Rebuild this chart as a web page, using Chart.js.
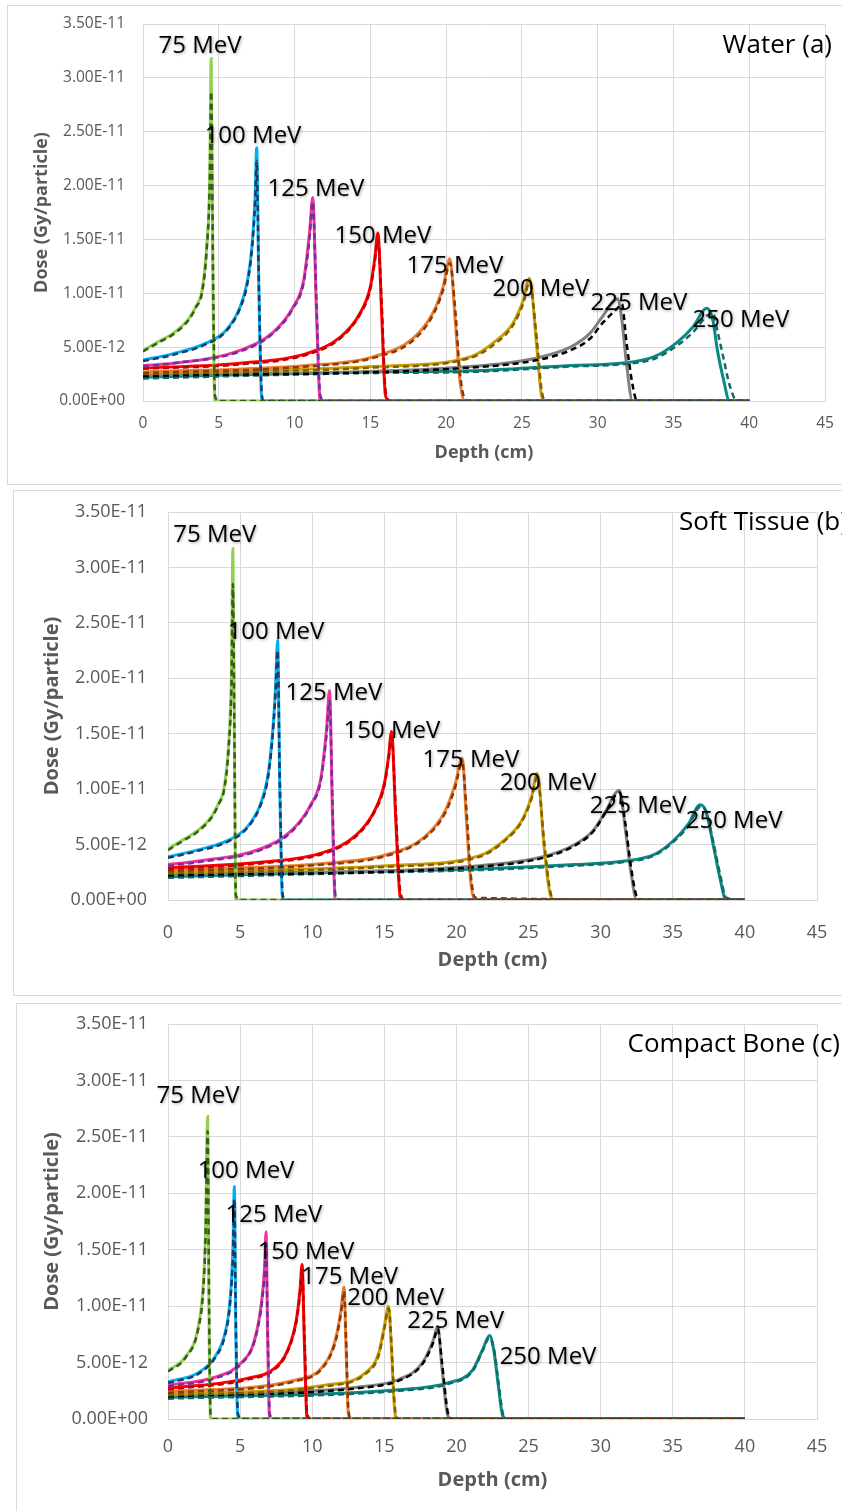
<!DOCTYPE html>
<html>
<head>
<meta charset="utf-8">
<script src="https://cdn.jsdelivr.net/npm/chart.js@4.4.0/dist/chart.umd.min.js"></script>
<style>
  body { margin: 0; width: 842px; height: 1511px; background: #fff; overflow: hidden; position: relative; }
  .frame { position: absolute; border: 1px solid #d9d9d9; }
  canvas { position: absolute; }
</style>
</head>
<body>
<div class="frame" style="left:7px;top:5px;width:900px;height:478px;"></div>
<div class="frame" style="left:13px;top:490px;width:900px;height:504px;"></div>
<div class="frame" style="left:16px;top:1003px;width:900px;height:560px;"></div>
<canvas id="water" width="834" height="478" style="left:8px;top:6px;"></canvas>
<canvas id="tissue" width="828" height="504" style="left:14px;top:491px;"></canvas>
<canvas id="bone" width="825" height="507" style="left:17px;top:1004px;"></canvas>
<script>
"use strict";

// dose values are in units of 1e-12 Gy/particle
const energies = ['75 MeV', '100 MeV', '125 MeV', '150 MeV', '175 MeV', '200 MeV', '225 MeV', '250 MeV'];
const depthTicks = [0, 5, 10, 15, 20, 25, 30, 35, 40, 45];

// Water (a)
const waterDepth = [
  [0, 1, 2, 3, 3.5, 3.9, 4.2, 4.4, 4.5, 4.62, 4.75, 5, 40],
  [0, 2, 4.2, 5.5, 6.4, 6.9, 7.2, 7.4, 7.5, 7.65, 7.85, 8, 40],
  [0, 2, 6.4, 8.6, 9.9, 10.6, 11.0, 11.2, 11.45, 11.7, 12, 40],
  [0, 6.4, 10.8, 13.0, 14.3, 15.0, 15.3, 15.5, 15.75, 16.0, 16.3, 40],
  [0, 10.8, 15.2, 17.8, 19.1, 19.8, 20.25, 20.6, 20.9, 21.2, 21.5, 40],
  [0, 15.2, 21.6, 23.3, 24.4, 25.1, 25.5, 26.0, 26.3, 26.6, 40],
  [0, 21.6, 26.0, 28.2, 29.5, 30.3, 31.3, 31.6, 31.9, 32.3, 32.6, 40],
  [0, 15.2, 21.6, 28.2, 31.5, 33.7, 35.2, 36.3, 37.2, 37.6, 37.9, 38.3, 38.7, 39.2, 40]
];
const waterSolid = [
  [4.7, 5.5, 6.3, 7.6, 8.8, 10.3, 14.3, 20.5, 31.8, 10, 0, 0, 0],
  [3.8, 4.4, 5.4, 6.6, 8.7, 11.2, 14.5, 19, 23.5, 10, 0, 0, 0],
  [3.3, 3.5, 4.7, 6.4, 8.7, 11.2, 15.8, 18.9, 8, 0, 0, 0],
  [3.05, 3.5, 4.4, 5.9, 8.1, 10.6, 13.3, 15.6, 8, 0.5, 0, 0],
  [2.7, 3.3, 4.1, 5.8, 8.1, 10.6, 13.2, 7.5, 2, 0, 0, 0],
  [2.6, 3.2, 4.1, 5.6, 7.2, 9.4, 11.4, 4.7, 0.5, 0, 0],
  [2.4, 3.2, 4.0, 5.0, 6.3, 7.8, 9.5, 7.5, 3.5, 0, 0, 0],
  [2.2, 2.7, 2.8, 3.3, 3.5, 4.1, 5.4, 6.9, 8.6, 7.5, 4.7, 2, 0, 0, 0]
];
const waterDashed = [
  [4.6, 5.4, 6.2, 7.5, 8.7, 10.1, 14.0, 20.0, 28.7, 12, 0.5, 0, 0],
  [3.7, 4.3, 5.3, 6.5, 8.6, 11.0, 14.3, 18.5, 22.3, 10.5, 0.5, 0, 0],
  [3.2, 3.5, 4.6, 6.3, 8.6, 11.0, 15.3, 18.5, 9, 0.5, 0, 0],
  [3.0, 3.4, 4.3, 5.8, 8.0, 10.4, 13.0, 15.0, 9, 1, 0, 0],
  [2.6, 3.2, 4.0, 5.6, 7.9, 10.3, 12.8, 8.5, 2.8, 0.3, 0, 0],
  [2.5, 3.1, 4.0, 5.4, 7.0, 9.1, 11.0, 5.5, 1.0, 0, 0],
  [2.3, 3.1, 3.8, 4.7, 5.8, 7.2, 8.6, 9.0, 5.5, 1.5, 0, 0],
  [2.1, 2.6, 2.7, 3.2, 3.4, 3.9, 5.1, 6.4, 7.9, 8.2, 6.5, 4, 1.5, 0, 0]
];
const waterLabelX = [3.76, 7.26, 11.41, 15.83, 20.58, 26.25, 32.72, 39.45];
const waterLabelY = [32.9, 24.6, 19.7, 15.3, 12.5, 10.4, 9.07, 7.5];

// Soft Tissue (b)
const tissueDepth = [
  [0, 1, 2, 3, 3.5, 3.9, 4.2, 4.4, 4.5, 4.6, 4.7, 5, 40],
  [0, 2, 4.2, 5.5, 6.4, 6.9, 7.2, 7.45, 7.6, 7.75, 7.95, 8.2, 40],
  [0, 2, 6.4, 8.6, 9.9, 10.6, 11.0, 11.2, 11.4, 11.6, 12, 40],
  [0, 6.4, 10.8, 13.0, 14.3, 15.0, 15.3, 15.5, 15.8, 16.1, 16.4, 40],
  [0, 10.8, 15.2, 17.8, 19.2, 19.9, 20.4, 20.7, 21.0, 21.3, 40],
  [0, 15.2, 21.6, 23.4, 24.5, 25.2, 25.6, 26.1, 26.5, 26.8, 40],
  [0, 21.6, 26.0, 28.2, 29.5, 30.3, 31.3, 31.7, 32.1, 32.5, 32.8, 40],
  [0, 15.2, 21.6, 28.2, 31.5, 33.7, 35.0, 36.1, 36.9, 37.3, 37.8, 38.3, 38.7, 40]
];
const tissueSolid = [
  [4.6, 5.4, 6.2, 7.5, 8.7, 10.2, 14.0, 20.5, 31.7, 15, 0, 0, 0],
  [3.9, 4.5, 5.4, 6.6, 8.6, 11.0, 14.3, 19.0, 23.4, 10, 0, 0, 0],
  [3.2, 3.5, 4.6, 6.3, 8.6, 11.0, 15.5, 18.9, 8, 0, 0, 0],
  [2.9, 3.4, 4.3, 5.8, 8.0, 10.5, 13.0, 15.2, 7, 0.3, 0, 0],
  [2.7, 3.3, 4.1, 5.7, 8.0, 10.4, 12.8, 7, 1.5, 0, 0],
  [2.5, 3.1, 4.0, 5.5, 7.1, 9.3, 11.4, 4.5, 0.5, 0, 0],
  [2.3, 3.1, 3.9, 5.0, 6.3, 7.9, 9.9, 6.5, 2.5, 0, 0, 0],
  [2.1, 2.6, 2.8, 3.2, 3.5, 4.1, 5.3, 6.9, 8.6, 8.0, 5.0, 1.8, 0, 0]
];
const tissueDashed = [
  [4.5, 5.3, 6.1, 7.4, 8.6, 10.0, 13.6, 19.5, 28.5, 16, 0.5, 0, 0],
  [3.8, 4.4, 5.3, 6.5, 8.5, 10.8, 14.0, 18.5, 22.5, 11, 0.5, 0, 0],
  [3.1, 3.4, 4.5, 6.2, 8.5, 10.8, 15.0, 18.0, 9, 0.5, 0, 0],
  [2.8, 3.3, 4.2, 5.7, 7.9, 10.3, 12.8, 14.7, 8, 0.8, 0, 0],
  [2.6, 3.2, 4.0, 5.6, 7.8, 10.1, 12.4, 8, 2.2, 0.2, 0],
  [2.4, 3.0, 3.9, 5.4, 7.0, 9.1, 11.1, 5.0, 0.8, 0, 0],
  [2.2, 3.0, 3.8, 4.9, 6.2, 7.8, 9.7, 7.0, 3.0, 0.3, 0, 0],
  [2.0, 2.5, 2.7, 3.1, 3.4, 4.0, 5.2, 6.7, 8.4, 8.0, 5.3, 2.2, 0.2, 0]
];
const tissueLabelX = [3.25, 7.49, 11.51, 15.53, 21.0, 26.35, 32.6, 39.25];
const tissueLabelY = [32.9, 24.2, 18.7, 15.2, 12.6, 10.5, 8.5, 7.1];

// Compact Bone (c)
const boneDepth = [
  [0, 1.2, 2.1, 2.45, 2.6, 2.75, 2.85, 2.95, 3.2, 40],
  [0, 2.1, 3.25, 3.95, 4.3, 4.5, 4.6, 4.7, 4.85, 5.1, 40],
  [0, 3.25, 5.1, 6.0, 6.5, 6.7, 6.8, 6.9, 7.05, 7.3, 40],
  [0, 5.5, 7.4, 8.3, 8.9, 9.15, 9.3, 9.45, 9.65, 9.9, 40],
  [0, 9.0, 10.7, 11.6, 12.0, 12.2, 12.35, 12.5, 12.7, 40],
  [0, 10.9, 13.7, 14.6, 15.0, 15.3, 15.5, 15.7, 15.9, 40],
  [0, 13.7, 16.0, 17.6, 18.4, 18.7, 19.0, 19.4, 19.7, 40],
  [0, 16.0, 19.4, 21.1, 21.8, 22.3, 22.6, 22.9, 23.2, 23.5, 40]
];
const boneSolid = [
  [4.3, 5.5, 8.2, 12, 16.5, 26.8, 8, 0, 0, 0],
  [3.3, 4.1, 5.5, 7.6, 10.5, 15, 20.6, 8, 0, 0, 0],
  [3.0, 3.7, 5.0, 7.0, 10.5, 13.5, 16.6, 8, 0, 0, 0],
  [2.7, 3.6, 4.5, 6.1, 8.8, 11.4, 13.7, 7, 0, 0, 0],
  [2.4, 3.5, 4.6, 7.0, 9.7, 11.7, 6, 0.5, 0, 0],
  [2.2, 3.0, 4.1, 5.8, 8.2, 10.0, 6, 1, 0, 0],
  [2.1, 2.9, 3.5, 4.9, 7.0, 8.2, 4.5, 0.3, 0, 0],
  [1.9, 2.6, 3.2, 4.3, 6.1, 7.4, 6.0, 3.0, 0.3, 0, 0]
];
const boneDashed = [
  [4.2, 5.4, 8.0, 11.5, 16, 25.5, 10, 0.5, 0, 0],
  [3.2, 4.0, 5.4, 7.4, 10.2, 14.5, 19.5, 9, 0.5, 0, 0],
  [2.9, 3.6, 4.9, 6.9, 10.2, 13.0, 15.5, 9, 0.5, 0, 0],
  [2.6, 3.5, 4.4, 6.0, 8.6, 11.0, 13.2, 8, 0.5, 0, 0],
  [2.3, 3.4, 4.5, 6.8, 9.4, 11.3, 7, 1, 0, 0],
  [2.1, 2.9, 4.0, 5.6, 8.0, 9.8, 6.5, 1.5, 0, 0],
  [2.0, 2.8, 3.4, 4.8, 6.8, 8.0, 5.0, 0.6, 0, 0],
  [1.8, 2.5, 3.1, 4.2, 6.0, 7.2, 6.2, 3.4, 0.6, 0, 0]
];
const boneLabelX = [2.08, 5.41, 7.35, 9.57, 12.59, 15.78, 19.94, 26.35];
const boneLabelY = [28.6, 22.0, 18.1, 14.8, 12.6, 10.7, 8.7, 5.5];

const solidColors = ['#92d050', '#00b0f0', '#f0349a', '#ff0000', '#ed7d31', '#c9a000', '#808080', '#0a8a86'];
const dashedColors = ['#3a5a1e', '#1f3864', '#7030a0', '#c00000', '#843c0c', '#7f6000', '#000000', '#136a66'];

const FONT = '"Open Sans", "DejaVu Sans", sans-serif';
const GRID = '#d9d9d9';
const TEXT_GRAY = '#595959';

function sciLabel(v) {
  // v is in units of 1e-12
  if (v === 0) return '0.00E+00';
  let m = v, e = -12;
  while (m >= 10 - 1e-9) { m /= 10; e += 1; }
  return m.toFixed(2) + 'E' + (e < 0 ? '-' : '+') + String(Math.abs(e)).padStart(2, '0');
}

function buildDatasets(depth, solid, dashed) {
  const sets = [];
  energies.forEach((name, i) => {
    sets.push({
      label: name + ' solid',
      data: depth[i].map((x, j) => ({x: x, y: solid[i][j]})),
      borderColor: solidColors[i],
      borderWidth: 3,
      order: 1
    });
    sets.push({
      label: name + ' dashed',
      data: depth[i].map((x, j) => ({x: x, y: dashed[i][j]})),
      borderColor: dashedColors[i],
      borderWidth: 2.5,
      borderDash: [6, 4],
      order: 0
    });
  });
  return sets;
}

const annotations = {
  id: 'annotations',
  afterDatasetsDraw(chart, args, opts) {
    const ctx = chart.ctx;
    const xs = chart.scales.x, ys = chart.scales.y;
    ctx.save();
    ctx.fillStyle = '#000';
    ctx.shadowColor = 'rgba(0,0,0,0.35)';
    ctx.shadowBlur = 3;
    ctx.shadowOffsetX = 1;
    ctx.shadowOffsetY = 1;
    ctx.textBaseline = 'middle';
    ctx.textAlign = 'center';
    ctx.font = opts.labelSize + 'px ' + FONT;
    energies.forEach((name, i) => {
      ctx.fillText(name, xs.getPixelForValue(opts.labelX[i]), ys.getPixelForValue(opts.labelY[i]));
    });
    ctx.shadowColor = 'rgba(0,0,0,0)';
    ctx.font = opts.titleSize + 'px ' + FONT;
    ctx.textAlign = opts.titleAlign;
    ctx.fillText(opts.title, chart.chartArea.right + opts.titleDx, chart.chartArea.top + opts.titleDy);
    ctx.restore();
  }
};

function makeChart(id, p) {
  new Chart(document.getElementById(id), {
    type: 'line',
    data: {datasets: buildDatasets(p.depth, p.solid, p.dashed)},
    plugins: [annotations],
    options: {
      responsive: false,
      animation: false,
      events: [],
      layout: {padding: {top: p.padTop, right: p.padRight, left: 0, bottom: 0}},
      elements: {
        point: {radius: 0},
        line: {cubicInterpolationMode: 'monotone', fill: false}
      },
      plugins: {
        legend: {display: false},
        tooltip: {enabled: false},
        annotations: {
          labelX: p.labelX, labelY: p.labelY, labelSize: 24,
          title: p.title, titleSize: 26, titleAlign: p.titleAlign, titleDx: p.titleDx, titleDy: p.titleDy
        }
      },
      scales: {
        x: {
          type: 'linear',
          min: 0, max: 45,
          afterBuildTicks: s => { s.ticks = depthTicks.map(v => ({value: v})); },
          afterFit: s => { s.height = p.xHeight; s.paddingLeft = 0; s.paddingRight = 0; },
          grid: {color: GRID, drawTicks: false},
          border: {color: GRID},
          ticks: {color: TEXT_GRAY, padding: p.xTickPad, font: {family: FONT, size: p.tickSize}, maxRotation: 0},
          title: {display: true, text: 'Depth (cm)', color: TEXT_GRAY,
                  font: {family: FONT, size: p.titleFont, weight: 'bold'}, padding: {top: 0, bottom: p.xTitlePad}}
        },
        y: {
          min: 0, max: 35,
          ticks: {stepSize: 5, color: TEXT_GRAY, padding: p.yTickPad, font: {family: FONT, size: p.tickSize},
                  callback: v => sciLabel(v)},
          afterFit: s => { s.width = p.yWidth; s.paddingTop = 0; s.paddingBottom = 0; },
          grid: {color: GRID, drawTicks: false},
          border: {color: GRID},
          title: {display: true, text: 'Dose (Gy/particle)', color: TEXT_GRAY,
                  font: {family: FONT, size: p.titleFont, weight: 'bold'}, padding: {top: p.yTitlePad, bottom: 0}}
        }
      }
    }
  });
}

makeChart('water', {
  depth: waterDepth, solid: waterSolid, dashed: waterDashed,
  labelX: waterLabelX, labelY: waterLabelY,
  title: 'Water (a)', titleAlign: 'right', titleDx: 7, titleDy: 22,
  padTop: 18, padRight: 17, yWidth: 135, xHeight: 83,
  tickSize: 15.5, titleFont: 18, xTickPad: 13.7, yTickPad: 18, xTitlePad: 20.2, yTitlePad: 23.2
});

makeChart('tissue', {
  depth: tissueDepth, solid: tissueSolid, dashed: tissueDashed,
  labelX: tissueLabelX, labelY: tissueLabelY,
  title: 'Soft Tissue (b)', titleAlign: 'left', titleDx: -138, titleDy: 11,
  padTop: 21, padRight: 25, yWidth: 154, xHeight: 95,
  tickSize: 18, titleFont: 20, xTickPad: 22.2, yTickPad: 21, xTitlePad: 23, yTitlePad: 26
});

makeChart('bone', {
  depth: boneDepth, solid: boneSolid, dashed: boneDashed,
  labelX: boneLabelX, labelY: boneLabelY,
  title: 'Compact Bone (c)', titleAlign: 'right', titleDx: 23, titleDy: 21,
  padTop: 20, padRight: 25, yWidth: 151, xHeight: 92,
  tickSize: 18, titleFont: 20, xTickPad: 17.2, yTickPad: 20, xTitlePad: 19, yTitlePad: 23
});
</script>
</body>
</html>
